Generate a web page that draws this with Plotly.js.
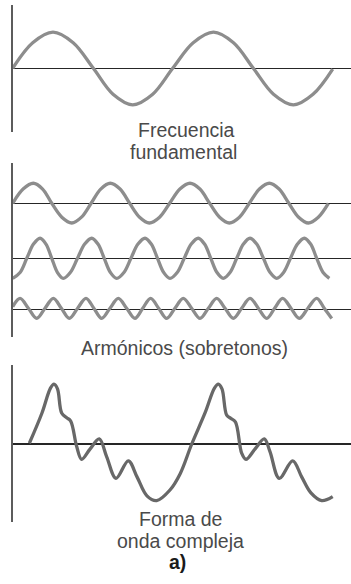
<!DOCTYPE html>
<html>
<head>
<meta charset="utf-8">
<script src="https://cdn.plot.ly/plotly-3.0.1.min.js"></script>
<style>
  html, body { margin: 0; padding: 0; background: #ffffff; }
  #chart { width: 351px; height: 584px; }
</style>
</head>
<body>
<div id="chart"></div>
<script>
// ---- data (time in fundamental periods, amplitude relative to fundamental) ----
const tFund = [0, .125, .252, .378, .504, .627, .75, .875, 1.0, 1.128, 1.255, 1.38, 1.504, 1.63, 1.754, 1.877, 2.0];
const yFund = [0, .7, .99, .7, 0, -.71, -1.0, -.71, 0, .7, .99, .7, 0, -.71, -1.0, -.71, -.02];

const tH2 = [0, .065, .129, .187, .244, .307, .369, .43, .49, .55, .61, .671, .731, .793, .854, .918, .981,
             1.045, 1.108, 1.17, 1.231, 1.293, 1.354, 1.417, 1.479, 1.542, 1.604, 1.665, 1.726, 1.787, 1.848, 1.91, 1.973];
const yH2 = [0, .39, .55, .39, 0, -.38, -.54, -.38, 0, .39, .55, .39, 0, -.38, -.54, -.38, 0,
             .39, .55, .39, 0, -.38, -.54, -.38, 0, .39, .55, .39, 0, -.38, -.54, -.38, 0];

const tH3 = [0, .046, .088, .13, .171, .208, .244, .28, .316, .36, .405, .45, .494, .533, .572, .611, .65,
             .695, .739, .783, .827, .866, .905, .944, .983, 1.028, 1.072, 1.116, 1.16, 1.199, 1.238, 1.277,
             1.316, 1.358, 1.4, 1.442, 1.483, 1.525, 1.567, 1.609, 1.65, 1.693, 1.736, 1.78, 1.823, 1.862, 1.9, 1.94, 1.979];
const yH3 = [-.55, -.39, 0, .39, .55, .39, 0, -.39,
             -.55, -.39, 0, .39, .55, .39, 0, -.39,
             -.55, -.39, 0, .39, .55, .39, 0, -.39,
             -.55, -.39, 0, .39, .55, .39, 0, -.39,
             -.55, -.39, 0, .39, .55, .39, 0, -.39,
             -.55, -.39, 0, .39, .55, .39, 0, -.39, -.55];

const tH5 = [0, .046, .098, .15, .202, .254, .304, .354, .406, .458, .507, .556, .608, .66, .712, .764, .813, .862, .912, .9625,
             1.014, 1.066, 1.118, 1.171, 1.223, 1.275, 1.327, 1.379, 1.431, 1.483, 1.535, 1.5875, 1.637, 1.687, 1.739, 1.791, 1.845, 1.9, 1.947, 1.994];
const yH5 = [.07, .30, .03, -.25, .03, .30, .03, -.25, .03, .30, .03, -.25, .03, .30, .03, -.25, .03, .30, .03, -.25,
             .03, .30, .03, -.25, .03, .30, .03, -.25, .03, .30, .03, -.25, .03, .30, .03, -.25, .03, .30, .03, -.25];

const tComplex = [.104, .183, .236, .258, .28, .306, .3375, .3625, .4, .431, .483, .541, .5875, .646, .7225, .777, .839, .9, .983, 1.046,
                  1.119, 1.202, 1.261, 1.285, 1.308, 1.3375, 1.364, 1.3925, 1.431, 1.458, 1.514, 1.5725, 1.608, 1.666, 1.75, 1.806, 1.864, 1.931, 2.0];
const yComplex = [.02, .85, 1.53, 1.64, 1.51, .85, .72, .63, -.07, -.42, -.14, .14, -.35, -.94, -.46, -.9, -1.42, -1.55, -1.26, -.82,
                  0, .85, 1.53, 1.64, 1.51, .79, .70, .60, -.25, -.42, -.14, .14, -.21, -.94, -.46, -.9, -1.34, -1.55, -1.44];

const labels = ['Frecuencia', 'fundamental', 'Armónicos (sobretonos)', 'Forma de', 'onda compleja', 'a)'];

// ---- layout helpers ----
const W = 351, H = 584, L = 13;
const S = 36.5;          // pixels per amplitude unit
const PX_PER_T = 160;    // pixels per fundamental period
const X0 = 12.7;         // pixel of t = 0

function yAxis(top, bottom, base) {
  return {
    domain: [1 - bottom / H, 1 - top / H],
    range: [(base - bottom) / S, (base - top) / S],
    anchor: 'x',
    showline: true, linecolor: '#5c5c5c', linewidth: 1.7,
    zeroline: true, zerolinecolor: '#262626', zerolinewidth: 1.3,
    showgrid: false, showticklabels: false, ticks: '', fixedrange: true
  };
}

const lightGray = '#8d8d8d';
const darkGray = '#686868';
function trace(x, y, ax, color) {
  return { x: x, y: y, yaxis: ax, xaxis: 'x', type: 'scatter', mode: 'lines',
           line: { color: color, width: 3.3, shape: 'spline', smoothing: 1 },
           hoverinfo: 'skip', showlegend: false };
}

const data = [
  trace(tFund, yFund, 'y', lightGray),
  trace(tH2, yH2, 'y2', lightGray),
  trace(tH3, yH3, 'y3', lightGray),
  trace(tH5, yH5, 'y4', lightGray),
  trace(tComplex, yComplex, 'y5', darkGray)
];

const fs = 19.5;
function label(text, cx, baseline, bold) {
  return {
    text: bold ? '<b>' + text + '</b>' : text,
    xref: 'paper', yref: 'paper',
    x: (cx - L) / (W - L), y: 1 - (baseline - 0.34 * fs) / H,
    xanchor: 'center', yanchor: 'middle', showarrow: false,
    font: { family: 'Liberation Sans, Arial, sans-serif', size: fs, color: bold ? '#1a1a1a' : '#4a4a4a' }
  };
}

const layout = {
  width: W, height: H, autosize: false,
  margin: { l: L, r: 0, t: 0, b: 0, pad: 0 },
  paper_bgcolor: '#ffffff', plot_bgcolor: 'rgba(0,0,0,0)',
  showlegend: false,
  xaxis: { range: [(L - X0) / PX_PER_T, (W - X0) / PX_PER_T], domain: [0, 1],
           showline: false, zeroline: false, showgrid: false, showticklabels: false, ticks: '', fixedrange: true },
  yaxis: yAxis(5, 131.7, 68.3),
  yaxis2: yAxis(163.3, 230, 203.3),
  yaxis3: yAxis(230, 285, 258.3),
  yaxis4: yAxis(285, 336.7, 309.3),
  yaxis5: yAxis(365, 521.7, 444),
  annotations: [
    label(labels[0], 186.7, 137),
    label(labels[1], 183.3, 159),
    label(labels[2], 184.2, 354.3),
    label(labels[3], 180.3, 526),
    label(labels[4], 180, 547.3),
    label(labels[5], 177, 568.3, true)
  ]
};

Plotly.newPlot('chart', data, layout, { displayModeBar: false, staticPlot: true });
</script>
</body>
</html>
